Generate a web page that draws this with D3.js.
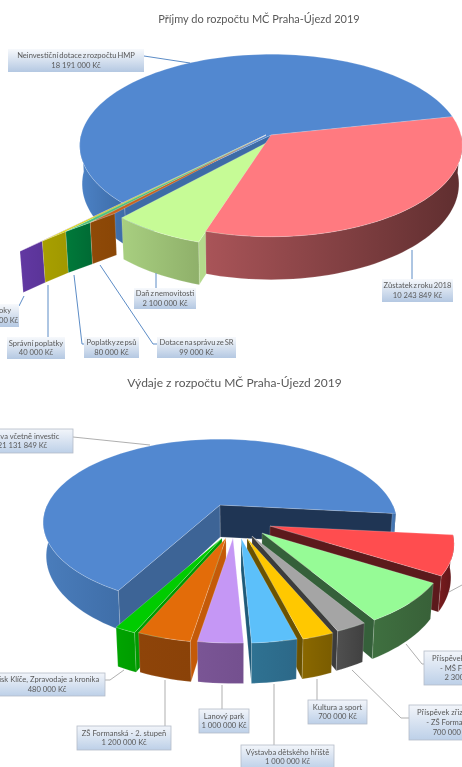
<!DOCTYPE html>
<html>
<head>
<meta charset="utf-8">
<script src="https://cdnjs.cloudflare.com/ajax/libs/d3/7.8.5/d3.min.js"></script>
<style>
  html, body { margin: 0; padding: 0; background: #fff; overflow: hidden; }
  svg { display: block; filter: blur(0.45px); }
  text { font-family: Lato, "Open Sans", sans-serif; fill: #595959; text-anchor: middle; }
</style>
</head>
<body>
<svg id="chart" width="462" height="767"></svg>
<script>
// Data
const incomeTitle = "Příjmy do rozpočtu MČ Praha-Újezd 2019";
const incomeNames = ["Neinvestiční dotace z rozpočtu HMP", "Zůstatek z roku 2018", "Daň z nemovitosti", "Dotace na správu ze SR", "Poplatky ze psů", "Správní poplatky", "Úroky"];
const incomeValues = [18191000, 10243849, 2100000, 99000, 80000, 40000, 10000];

const expenseTitle = "Výdaje z rozpočtu MČ Praha-Újezd 2019";
const expenseNames = ["Správa včetně investic", "Ostatní", "Příspěvek zřizovatele|- MŠ Formanská", "Příspěvek zřizovatele|- ZŠ Formanská", "Kultura a sport", "Výstavba dětského hřiště", "Lanový park", "ZŠ Formanská - 2. stupeň", "Tisk Klíče, Zpravodaje a kronika"];
const expenseValues = [21131849, 2252000, 2300000, 700000, 700000, 1000000, 1000000, 1200000, 480000];

// Colours: top, wall left, wall right, cut faces
const incomeTop = ["#5288d0", "#ff7a80", "#c6fb96", "#c8641e", "#4fc07a", "#d8d200", "#7a40b0"];
const incomeWallA = ["#4c82c6", "#a95458", "#a8cf80", "#8f4a08", "#007a3a", "#a89f00", "#6238a2"];
const incomeWallB = ["#3d6ba6", "#5f2e2f", "#8fb06a", "#8a4606", "#006a34", "#a09800", "#5a3498"];
const incomeFaceStart = ["#3d6ba6", "#b0585c", "#b4da8c", "#8f4a08", "#007a3a", "#a89f00", "#6238a2"];
const incomeFaceEnd = incomeFaceStart;

const expenseTop = ["#5288d0", "#ff4d4f", "#96fb96", "#a5a5a5", "#ffc800", "#5cc0fa", "#c597f5", "#e36c09", "#00cc00"];
const expenseWallA = ["#4a7dbc", "#7a1c1e", "#3f7040", "#505050", "#8a6800", "#2f7292", "#7a5595", "#8e4409", "#00a400"];
const expenseWallB = ["#3f6ea8", "#5c1518", "#386038", "#404040", "#7a5c00", "#2c6888", "#74508f", "#8a4208", "#009c00"];
const expenseFaceStart = ["#3d6496", "#5c1a1c", "#35603a", "#3c3c3c", "#6b5200", "#1f5a78", "#6a4a88", "#c45a08", "#009900"];
const expenseFaceEnd = ["#1f3554", "#5c1a1c", "#35603a", "#3c3c3c", "#6b5200", "#1f5a78", "#6a4a88", "#c45a08", "#009900"];

// Layout of the two pies
const incomePie = { cx: 271, cy: 135, rx: 190, ry: 90, persp: 0.115, depth: 38, start: 135.1 };
const expensePie = { cx: 220, cy: 505, rx: 180, ry: 83, persp: 0.21, depth: 32, start: 118.7 };

// Explosion of each slice: apex offset and radial scale
const incomeOffsetX = [0, 0, -5, -5, -5, -5, -5];
const incomeOffsetY = [0, 0, 8, 0, 0, 0, 0];
const incomeScale = [1, 1, 1.03, 1, 1, 1, 1];
const expenseOffsetX = [0, 50, 42, 32, 27, 21, 13, 6, 2];
const expenseOffsetY = [0, 21, 28, 31, 33, 33, 33, 33, 33];
const expenseScale = [0.96, 1, 1, 1, 1, 1, 1, 1, 1];

// Paint order, back to front
const incomeLayers = [0, 6, 5, 4, 3, 2, 1];
const expenseLayers = [0, 1, 2, 3, 4, 8, 5, 7, 6];

// The tiny income slices fan out along the edge of the blue one
const tinyReach = d3.scaleLinear().domain([0, 4]).range([1.08, 1.68]);
const firstTiny = 3;

// Label boxes: x, y, width, height
const incomeBoxes = [[8, 49, 136, 23], [382, 279, 71, 23], [134, 288, 62, 21], [157, 337, 79, 21], [84, 337, 55, 21], [7, 337, 58, 22], [-17, 304, 36, 23]];
const incomeLeaders = [
  [[144, 56], [190, 63]],
  [[412, 250], [412, 279]],
  [[156, 273], [156, 288]],
  [[100, 265], [153, 344], [157, 344]],
  [[74, 275], [82, 344], [84, 344]],
  [[48, 285], [48, 337]],
  [[24, 296], [19, 306]]
];
const expenseBoxes = [[-28, 429, 101, 24], [520, 600, 60, 24], [424, 651, 86, 34], [409, 705, 86, 35], [308, 700, 59, 24], [241, 745, 93, 24], [199, 709, 50, 24], [77, 726, 94, 24], [-11, 673, 116, 23]];
const expenseLeaders = [
  [[73, 437], [150, 445]],
  [[449, 592], [462, 585]],
  [[406, 644], [422, 664], [424, 664]],
  [[352, 670], [401, 718], [409, 718]],
  [[317, 679], [317, 700]],
  [[274, 684], [274, 745]],
  [[222, 685], [222, 709]],
  [[165, 680], [165, 726]],
  [[124, 670], [110, 680], [105, 680]]
];

const svg = d3.select("#chart");
const defs = svg.append("defs");
const formatKc = d3.formatLocale({ decimal: ",", thousands: " ", grouping: [3], currency: ["", " Kč"] }).format("$,");
const line = d3.line();

const makeBoxGradient = (id, from, to) => {
  const g = defs.append("linearGradient").attr("id", id).attr("x1", 0).attr("y1", 0).attr("x2", 0).attr("y2", 1);
  g.append("stop").attr("offset", "0%").attr("stop-color", from);
  g.append("stop").attr("offset", "100%").attr("stop-color", to);
};
makeBoxGradient("box-income", "#f7f9fc", "#b4c8e2");
makeBoxGradient("box-expense", "#f2f5fa", "#bdd0e8");

let wallId = 0;
const wallFill = (points, from, to) => {
  const id = "wall-" + (wallId++);
  const xs = d3.extent(points, p => p[0]);
  const g = defs.append("linearGradient").attr("id", id)
    .attr("gradientUnits", "userSpaceOnUse")
    .attr("x1", xs[0]).attr("y1", 0).attr("x2", xs[1]).attr("y2", 0);
  g.append("stop").attr("offset", "0%").attr("stop-color", from);
  g.append("stop").attr("offset", "100%").attr("stop-color", to);
  return `url(#${id})`;
};

const toRad = d => d * Math.PI / 180;

// Draws one 3D pie from its values
function drawPie(values, pieCfg, style, offX, offY, scales, layers, tinyFrom) {
  const arcs = d3.pie().sort(null).value(d => d)
    .startAngle(toRad(pieCfg.start)).endAngle(toRad(pieCfg.start + 360))(values);

  const root = svg.append("g");

  // Walls lean slightly towards the middle as they go down
  const drop = (p, k) => [240 + (p[0] - 240) * 0.985, p[1] + pieCfg.depth * k];

  layers.forEach(i => {
    const a = arcs[i];
    const t0 = a.startAngle * 180 / Math.PI;
    const t1 = a.endAngle * 180 / Math.PI;
    const apex = [pieCfg.cx + offX[i], pieCfg.cy + offY[i]];
    const isTiny = i >= tinyFrom;
    const reach0 = isTiny ? tinyReach(i - tinyFrom) : 1;
    const reach1 = isTiny ? tinyReach(i - tinyFrom + 1) : 1;
    const n = Math.max(2, Math.ceil((t1 - t0) / 2) + 1);
    const rim = d3.range(n).map(j => {
      const f = j / (n - 1);
      const t = toRad(t0 + (t1 - t0) * f);
      const s = scales[i] * (reach0 + (reach1 - reach0) * f);
      const k = 1 / (1 - pieCfg.persp * Math.sin(t));
      return {
        sin: Math.sin(t),
        k,
        top: [apex[0] + pieCfg.rx * s * Math.cos(t) * k, apex[1] + pieCfg.ry * s * Math.sin(t) * k]
      };
    });

    const g = root.append("g");
    const topPts = [apex].concat(rim.map(r => r.top));
    const topSign = Math.sign(d3.polygonArea(topPts));

    // Cut faces, only those turned towards the viewer
    const first = rim[0];
    const last = rim[rim.length - 1];
    if (!isTiny) {
      [[apex, 1, first.top, first.k, style.faceStart[i]], [last.top, last.k, apex, 1, style.faceEnd[i]]].forEach(([p, kp, q, kq, color]) => {
        const quad = [p, q, drop(q, kq), drop(p, kp)];
        if (Math.sign(d3.polygonArea(quad)) === topSign) return;
        g.append("path")
          .attr("d", line(quad) + "Z")
          .attr("fill", color)
          .attr("stroke", "rgba(255,255,255,0.3)")
          .attr("stroke-width", 0.5);
      });
    }

    // Outer wall, split into the runs that face the viewer
    let run = [];
    const runs = [];
    rim.forEach(r => {
      if (r.sin > -0.02) run.push(r);
      else if (run.length) { runs.push(run); run = []; }
    });
    if (run.length) runs.push(run);
    runs.filter(r => r.length > 1).forEach(r => {
      const poly = r.map(p => p.top).concat(r.slice().reverse().map(p => drop(p.top, p.k)));
      g.append("path")
        .attr("d", line(poly) + "Z")
        .attr("fill", wallFill(poly, style.wallA[i], style.wallB[i]))
        .attr("stroke", "rgba(255,255,255,0.3)")
        .attr("stroke-width", 0.5);
    });

    g.append("path")
      .attr("d", line(topPts) + "Z")
      .attr("fill", style.top[i])
      .attr("stroke", "rgba(255,255,255,0.4)")
      .attr("stroke-width", 0.5);
  });
}

function drawLabels(names, values, boxes, leaders, gradient, leaderColor, border, nameSpacing) {
  const g = svg.append("g");
  leaders.forEach(pts => {
    g.append("path")
      .attr("d", line(pts))
      .attr("fill", "none")
      .attr("stroke", leaderColor)
      .attr("stroke-width", 0.9);
  });
  names.forEach((name, i) => {
    const [x, y, w, h] = boxes[i];
    g.append("rect")
      .attr("x", x).attr("y", y).attr("width", w).attr("height", h)
      .attr("fill", `url(#${gradient})`)
      .attr("stroke", border)
      .attr("stroke-width", border === "none" ? 0 : 0.8);
    const nameRows = name.split("|");
    const rows = nameRows.concat(formatKc(values[i]));
    const rowGap = 9.6;
    const y0 = y + h / 2 - rowGap * (rows.length - 1) / 2 + 2.5;
    rows.forEach((row, j) => {
      g.append("text")
        .attr("x", x + w / 2)
        .attr("y", y0 + j * rowGap)
        .attr("font-size", 7.6)
        .style("word-spacing", (j < nameRows.length ? nameSpacing : 0) + "px")
        .text(row);
    });
  });
}

svg.append("text").attr("x", 259).attr("y", 23).attr("font-size", 11).text(incomeTitle);
svg.append("text").attr("x", 234.5).attr("y", 387).attr("font-size", 12).text(expenseTitle);

drawPie(incomeValues, incomePie,
  { top: incomeTop, wallA: incomeWallA, wallB: incomeWallB, faceStart: incomeFaceStart, faceEnd: incomeFaceEnd },
  incomeOffsetX, incomeOffsetY, incomeScale, incomeLayers, firstTiny);
drawLabels(incomeNames, incomeValues, incomeBoxes, incomeLeaders, "box-income", "#4a7fc0", "none", -1);

drawPie(expenseValues, expensePie,
  { top: expenseTop, wallA: expenseWallA, wallB: expenseWallB, faceStart: expenseFaceStart, faceEnd: expenseFaceEnd },
  expenseOffsetX, expenseOffsetY, expenseScale, expenseLayers, Infinity);
drawLabels(expenseNames, expenseValues, expenseBoxes, expenseLeaders, "box-expense", "#a6a6a6", "#b4bcc8", 0);
</script>
</body>
</html>
